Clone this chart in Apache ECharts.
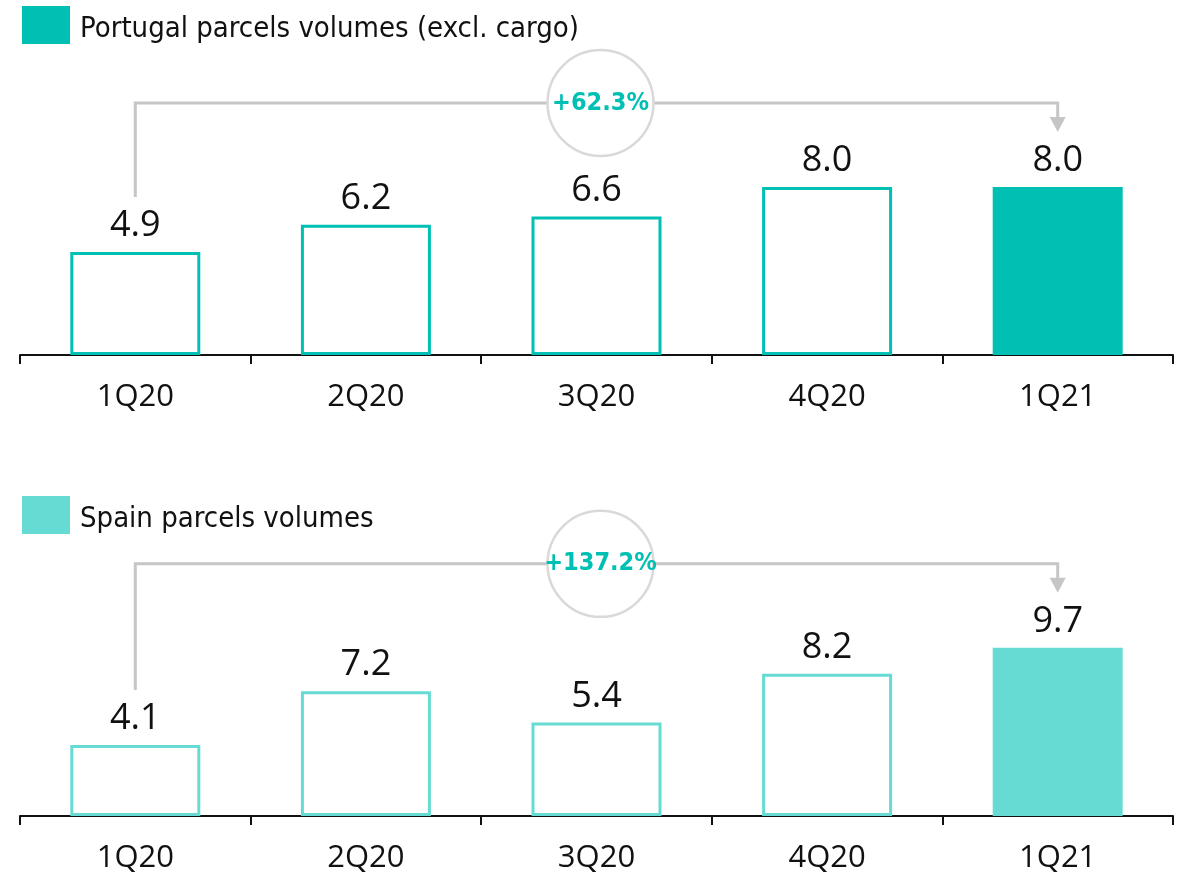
<!DOCTYPE html>
<html>
<head>
<meta charset="utf-8">
<script src="https://cdn.jsdelivr.net/npm/echarts@6/dist/echarts.min.js"></script>
<style>
  html, body { margin: 0; padding: 0; background: #fff; }
  #chart { width: 1185px; height: 874px; }
</style>
</head>
<body>
<div id="chart"></div>
<script>
// data
const categories = ['1Q20', '2Q20', '3Q20', '4Q20', '1Q21'];
const portugalValues = [4.9, 6.2, 6.6, 8.0, 8.0];
const spainValues = [4.1, 7.2, 5.4, 8.2, 9.7];
const seriesNames = ['Portugal parcels volumes (excl. cargo)', 'Spain parcels volumes'];
const growthLabels = ['+62.3%', '+137.2%'];

const TEAL = '#00BFB3';
const TEAL_LIGHT = '#66DBD3';
const GREY = '#c6c6c6';
const NUM_FONT = "'Open Sans', 'Noto Sans', sans-serif";
const TITLE_FONT = "'Liberation Sans Narrow', 'DejaVu Sans Condensed', 'Open Sans', sans-serif";

const chart = echarts.init(document.getElementById('chart'));

// hollow bars, last one filled
const barData = (values, color) => values.map((v, i) => ({
  value: v,
  itemStyle: i === values.length - 1
    ? { color: color, borderColor: color, borderWidth: 0 }
    : { color: '#fff', borderColor: color, borderWidth: 3 }
}));

const xAxisCfg = (gridIndex) => ({
  type: 'category',
  gridIndex: gridIndex,
  data: categories,
  boundaryGap: true,
  axisLine: { lineStyle: { color: '#111', width: 2 } },
  axisTick: { show: true, length: 9, lineStyle: { color: '#111', width: 2 } },
  axisLabel: { fontFamily: NUM_FONT, fontSize: 31, color: '#111', margin: 27 }
});

const yAxisCfg = (gridIndex, max) => ({
  type: 'value',
  gridIndex: gridIndex,
  min: 0,
  max: max,
  show: false
});

const seriesCfg = (idx, values, color) => ({
  name: seriesNames[idx],
  type: 'bar',
  xAxisIndex: idx,
  yAxisIndex: idx,
  barWidth: 130,
  itemStyle: { color: color },
  label: {
    show: true,
    position: 'top',
    distance: 8,
    fontFamily: NUM_FONT,
    fontSize: 36,
    color: '#111',
    formatter: (p) => p.value.toFixed(1)
  },
  data: barData(values, color)
});

const legendCfg = (idx, top, color) => ({
  data: [seriesNames[idx]],
  left: 22,
  top: top,
  padding: 0,
  itemWidth: 48,
  itemHeight: 38,
  icon: 'rect',
  selectedMode: false,
  itemStyle: { color: color, borderWidth: 0 },
  formatter: (name) => '{t|' + name + '}',
  textStyle: {
    rich: {
      t: { fontFamily: TITLE_FONT, fontSize: 29, color: '#111', padding: [9, 0, 0, 5] }
    }
  }
});

chart.setOption({
  animation: false,
  legend: [legendCfg(0, 6, TEAL), legendCfg(1, 496, TEAL_LIGHT)],
  grid: [
    { left: 20, right: 12, top: 145, height: 210 },
    { left: 20, right: 12, top: 608, height: 209 }
  ],
  xAxis: [xAxisCfg(0), xAxisCfg(1)],
  yAxis: [yAxisCfg(0, 10), yAxisCfg(1, 12)],
  series: [
    seriesCfg(0, portugalValues, TEAL),
    seriesCfg(1, spainValues, TEAL_LIGHT)
  ]
});

// growth brackets, placed from the axes' own pixel conversion
function bracket(gridIndex, values, text) {
  const last = values.length - 1;
  const p0 = chart.convertToPixel({ gridIndex: gridIndex }, [0, values[0]]);
  const p1 = chart.convertToPixel({ gridIndex: gridIndex }, [last, values[last]]);
  const topY = chart.convertToPixel({ gridIndex: gridIndex }, [0, Math.max(...values)])[1] - 84;
  const startY = p0[1] - 55;
  const arrowTip = p1[1] - 55;
  const midX = (p0[0] + p1[0]) / 2 + 4;
  return [
    {
      type: 'polyline',
      shape: { points: [[p0[0], startY], [p0[0], topY], [p1[0], topY], [p1[0], arrowTip - 12]] },
      style: { stroke: GREY, lineWidth: 3, fill: null },
      z: 10
    },
    {
      type: 'polygon',
      shape: { points: [[p1[0] - 8, arrowTip - 15], [p1[0] + 8, arrowTip - 15], [p1[0], arrowTip]] },
      style: { fill: GREY },
      z: 10
    },
    {
      type: 'circle',
      shape: { cx: midX, cy: topY, r: 53 },
      style: { fill: '#fff', stroke: '#d9d9d9', lineWidth: 2.5 },
      z: 11
    },
    {
      type: 'text',
      x: midX,
      y: topY,
      style: {
        text: text,
        align: 'center',
        verticalAlign: 'middle',
        fontFamily: TITLE_FONT,
        fontWeight: 'bold',
        fontSize: 25,
        fill: TEAL
      },
      z: 12
    }
  ];
}

chart.setOption({
  graphic: [].concat(
    bracket(0, portugalValues, growthLabels[0]),
    bracket(1, spainValues, growthLabels[1])
  )
});

window.addEventListener('resize', () => chart.resize());
</script>
</body>
</html>
